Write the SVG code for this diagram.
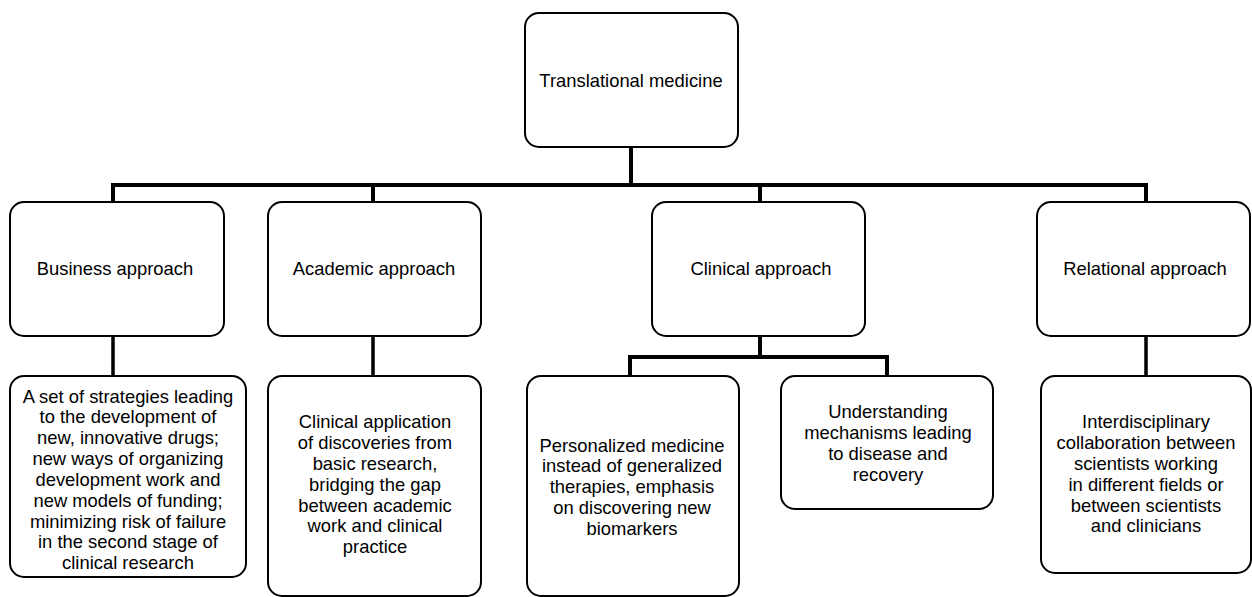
<svg xmlns="http://www.w3.org/2000/svg" width="1252" height="597" viewBox="0 0 1252 597">
<style>
.box{fill:#fff;stroke:#000;stroke-width:2}
.lbl{font-family:"Liberation Sans",Arial,sans-serif;font-size:18.4px;fill:#000;text-anchor:middle}
.con{stroke:#000;stroke-width:4;fill:none;stroke-linecap:square}
.con2{stroke:#000;stroke-width:3.5;fill:none}
</style>
<rect width="1252" height="597" fill="#fff"/>
<g id="connectors">
<path class="con" d="M631 147 V185 M113 202 V185 H1146 V202 M373 185 V202 M760 185 V202"/>
<path class="con2" d="M113 336 V376 M373 336 V376 M1146 336 V376"/>
<path class="con" d="M760 336 V357 M630 376 V357 H887 V376"/>
</g>
<g id="n-root"><rect class="box" x="525" y="13" width="213" height="134" rx="14"/><text class="lbl" x="631" y="86.5">Translational medicine</text></g>
<g id="n-business"><rect class="box" x="10" y="202" width="214" height="134" rx="14"/><text class="lbl" x="115" y="274.5">Business approach</text></g>
<g id="n-academic"><rect class="box" x="268" y="202" width="213" height="134" rx="14"/><text class="lbl" x="374" y="274.5">Academic approach</text></g>
<g id="n-clinical"><rect class="box" x="652" y="202" width="213" height="134" rx="14"/><text class="lbl" x="761" y="274.5">Clinical approach</text></g>
<g id="n-relational"><rect class="box" x="1037" y="202" width="213" height="134" rx="14"/><text class="lbl" x="1145" y="274.5">Relational approach</text></g>
<g id="n-business-d"><rect class="box" x="10" y="376" width="236" height="201" rx="14"/>
<text class="lbl" x="128" y="402.6">A set of strategies leading</text>
<text class="lbl" x="128" y="423.4">to the development of</text>
<text class="lbl" x="128" y="444.3">new, innovative drugs;</text>
<text class="lbl" x="128" y="465.1">new ways of organizing</text>
<text class="lbl" x="128" y="485.9">development work and</text>
<text class="lbl" x="128" y="506.8">new models of funding;</text>
<text class="lbl" x="128" y="527.6">minimizing risk of failure</text>
<text class="lbl" x="128" y="548.4">in the second stage of</text>
<text class="lbl" x="128" y="569.3">clinical research</text>
</g>
<g id="n-academic-d"><rect class="box" x="268" y="376" width="213" height="220" rx="14"/>
<text class="lbl" x="375" y="428.3">Clinical application</text>
<text class="lbl" x="375" y="449.1">of discoveries from</text>
<text class="lbl" x="375" y="469.9">basic research,</text>
<text class="lbl" x="375" y="490.7">bridging the gap</text>
<text class="lbl" x="375" y="511.5">between academic</text>
<text class="lbl" x="375" y="532.3">work and clinical</text>
<text class="lbl" x="375" y="553.1">practice</text>
</g>
<g id="n-personalized"><rect class="box" x="527" y="376" width="212" height="220" rx="14"/>
<text class="lbl" x="632" y="451.6">Personalized medicine</text>
<text class="lbl" x="632" y="472.4">instead of generalized</text>
<text class="lbl" x="632" y="493.2">therapies, emphasis</text>
<text class="lbl" x="632" y="514">on discovering new</text>
<text class="lbl" x="632" y="534.8">biomarkers</text>
</g>
<g id="n-understanding"><rect class="box" x="781" y="376" width="212" height="133" rx="14"/>
<text class="lbl" x="888" y="418.3">Understanding</text>
<text class="lbl" x="888" y="439.1">mechanisms leading</text>
<text class="lbl" x="888" y="459.9">to disease and</text>
<text class="lbl" x="888" y="480.7">recovery</text>
</g>
<g id="n-interdisciplinary"><rect class="box" x="1041" y="376" width="210" height="197" rx="14"/>
<text class="lbl" x="1146" y="428.3">Interdisciplinary</text>
<text class="lbl" x="1146" y="449.1">collaboration between</text>
<text class="lbl" x="1146" y="469.9">scientists working</text>
<text class="lbl" x="1146" y="490.7">in different fields or</text>
<text class="lbl" x="1146" y="511.5">between scientists</text>
<text class="lbl" x="1146" y="532.3">and clinicians</text>
</g>
</svg>
